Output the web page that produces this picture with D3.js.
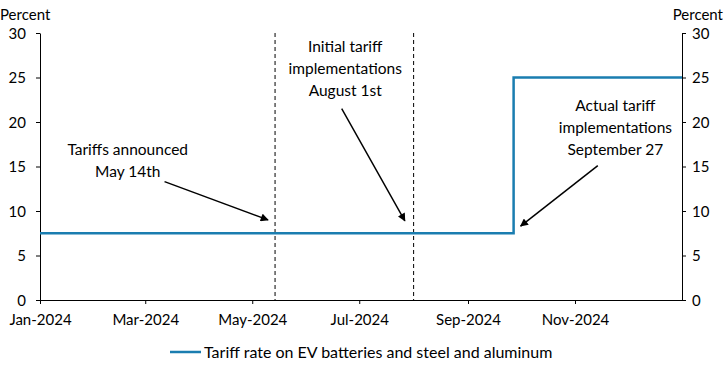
<!DOCTYPE html>
<html>
<head>
<meta charset="utf-8">
<script src="https://cdn.jsdelivr.net/npm/d3@7"></script>
<style>
  body { margin: 0; background: #fff; }
  svg text { font-family: Lato, "Open Sans", sans-serif; fill: #000; }
</style>
</head>
<body>
<svg id="chart" width="725" height="370"></svg>
<script>
const parse = d3.timeParse("%Y-%m-%d");

// Tariff rate series (step)
const rateDates = ["2024-01-01", "2024-09-27", "2025-01-01"];
const rateValues = [7.5, 25, 25];
const seriesName = "Tariff rate on EV batteries and steel and aluminum";

// Vertical event markers
const eventDates = ["2024-05-14", "2024-08-01"];

// Axis ticks
const xTicks = ["2024-01-01", "2024-03-01", "2024-05-01", "2024-07-01", "2024-09-01", "2024-11-01"];
const yTicks = [0, 5, 10, 15, 20, 25, 30];

// Annotations: text lines, text anchor and arrow in data coordinates
const noteLines = [
    ["Tariffs announced", "May 14th"],
    ["Initial tariff", "implementations", "August 1st"],
    ["Actual tariff", "implementations", "September 27"]
];
const noteTextAt = [["2024-02-20", 16.3], ["2024-06-23", 27.9], ["2024-11-24", 21.2]];
const arrowFrom = [["2024-03-12", 13.3], ["2024-06-21", 21.5], ["2024-11-14", 15.1]];
const arrowTo = [["2024-05-10", 9.0], ["2024-07-27", 8.9], ["2024-10-01", 8.3]];

const margin = {top: 33, right: 43, bottom: 70, left: 40};
const width = 725, height = 370;
const svg = d3.select("#chart");

const x = d3.scaleTime()
    .domain([parse("2024-01-01"), parse("2025-01-01")])
    .range([margin.left, width - margin.right]);
const y = d3.scaleLinear()
    .domain([0, 30])
    .range([height - margin.bottom, margin.top]);

svg.append("defs").append("marker")
    .attr("id", "arrow")
    .attr("viewBox", "0 0 10 10")
    .attr("refX", 9).attr("refY", 5)
    .attr("markerWidth", 9).attr("markerHeight", 8)
    .attr("markerUnits", "userSpaceOnUse")
    .attr("orient", "auto")
    .append("path")
    .attr("d", "M0,0 L10,5 L0,10 z")
    .attr("fill", "#000");

// x axis
const xAxis = svg.append("g")
    .attr("transform", `translate(0,${y(0)})`)
    .call(d3.axisBottom(x)
        .tickValues(xTicks.map(parse))
        .tickFormat(d3.timeFormat("%b-%Y"))
        .tickSize(4).tickSizeOuter(0).tickPadding(10));

// left y axis
const yLeft = svg.append("g")
    .attr("transform", `translate(${margin.left},0)`)
    .call(d3.axisLeft(y).tickValues(yTicks).tickSize(4).tickSizeOuter(0).tickPadding(10));

// right y axis
const yRight = svg.append("g")
    .attr("transform", `translate(${width - margin.right},0)`)
    .call(d3.axisRight(y).tickValues(yTicks).tickSize(4).tickSizeOuter(0).tickPadding(6));

[xAxis, yLeft, yRight].forEach(g => {
    g.selectAll("path, line").attr("stroke", "#000").attr("stroke-width", 1);
    g.selectAll("text").attr("font-size", 15).attr("font-family", "Lato, sans-serif");
});
yLeft.selectAll("text").attr("dy", "0.36em");
yRight.selectAll("text").attr("dy", "0.36em");

svg.append("text").attr("x", 0).attr("y", 20)
    .attr("font-size", 15).text("Percent");
svg.append("text").attr("x", width - 2).attr("y", 20)
    .attr("text-anchor", "end").attr("font-size", 15).text("Percent");

// event dashed lines
svg.selectAll(".event")
    .data(eventDates.map(parse))
    .enter().append("line")
    .attr("class", "event")
    .attr("x1", d => x(d)).attr("x2", d => x(d))
    .attr("y1", y(30)).attr("y2", y(0))
    .attr("stroke", "#000")
    .attr("stroke-width", 1)
    .attr("stroke-dasharray", "4,3");

// series
const rateData = rateDates.map((d, i) => ({date: parse(d), value: rateValues[i]}));
svg.append("path")
    .datum(rateData)
    .attr("fill", "none")
    .attr("stroke", "#1a7db0")
    .attr("stroke-width", 2.5)
    .attr("d", d3.line()
        .x(d => x(d.date))
        .y(d => y(d.value))
        .curve(d3.curveStepAfter));

// annotations
noteLines.forEach((lines, i) => {
    const tx = x(parse(noteTextAt[i][0]));
    const ty = y(noteTextAt[i][1]);
    const t = svg.append("text")
        .attr("text-anchor", "middle")
        .attr("font-size", 15.5);
    lines.forEach((s, j) => {
        t.append("tspan").attr("x", tx).attr("y", ty + j * 22).text(s);
    });
    svg.append("line")
        .attr("x1", x(parse(arrowFrom[i][0]))).attr("y1", y(arrowFrom[i][1]))
        .attr("x2", x(parse(arrowTo[i][0]))).attr("y2", y(arrowTo[i][1]))
        .attr("stroke", "#000")
        .attr("stroke-width", 1.5)
        .attr("marker-end", "url(#arrow)");
});

// legend
const legend = svg.append("g").attr("transform", "translate(170,352)");
legend.append("line")
    .attr("x1", 0).attr("x2", 31)
    .attr("stroke", "#1a7db0").attr("stroke-width", 2.5);
legend.append("text")
    .attr("x", 34).attr("dy", "0.36em")
    .attr("font-size", 16)
    .text(seriesName);
</script>
</body>
</html>
